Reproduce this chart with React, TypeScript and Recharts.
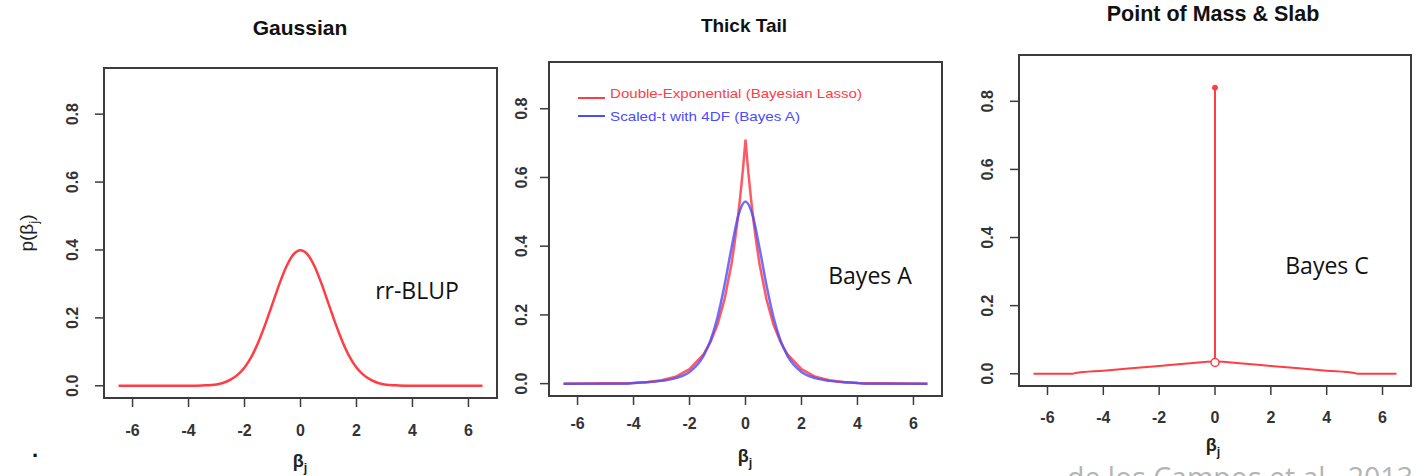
import React from 'react';
import { LineChart, Line, XAxis, YAxis, ReferenceArea, Legend } from 'recharts';

// axis setup shared by the three panels (R style, 4% padding around the data range)
const xTicks = [-6, -4, -2, 0, 2, 4, 6];
const yTicks = [0, 0.2, 0.4, 0.6, 0.8];
const xDomain: [number, number] = [-7.02, 7.02];
const yDomain: [number, number] = [-0.036, 0.936];

// Gaussian (rr-BLUP)
const gaussX = [-6.5, -5, -4, -3.5, -3, -2.75, -2.5, -2.25, -2, -1.75, -1.5, -1.25, -1, -0.75, -0.5, -0.25, 0,
  0.25, 0.5, 0.75, 1, 1.25, 1.5, 1.75, 2, 2.25, 2.5, 2.75, 3, 3.5, 4, 5, 6.5];
const gaussY = [0, 0, 0, 0.001, 0.004, 0.009, 0.018, 0.032, 0.054, 0.086, 0.13, 0.183, 0.242, 0.301, 0.352, 0.387, 0.399,
  0.387, 0.352, 0.301, 0.242, 0.183, 0.13, 0.086, 0.054, 0.032, 0.018, 0.009, 0.004, 0.001, 0, 0, 0];

// Double-exponential (Bayesian Lasso)
const lassoX = [-6.5, -5, -4, -3.5, -3, -2.5, -2, -1.5, -1.25, -1, -0.75, -0.5, -0.4, -0.3, -0.2, -0.1, -0.05, 0,
  0.05, 0.1, 0.2, 0.3, 0.4, 0.5, 0.75, 1, 1.25, 1.5, 2, 2.5, 3, 3.5, 4, 5, 6.5];
const lassoY = [0, 0.001, 0.002, 0.005, 0.01, 0.02, 0.042, 0.085, 0.121, 0.172, 0.245, 0.349, 0.403, 0.464, 0.535, 0.616, 0.662, 0.71,
  0.662, 0.616, 0.535, 0.464, 0.403, 0.349, 0.245, 0.172, 0.121, 0.085, 0.042, 0.02, 0.01, 0.005, 0.002, 0.001, 0];

// Scaled-t with 4 df (Bayes A)
const scaledTX = [-6.5, -5, -4.2, -4, -3.5, -3, -2.5, -2, -1.5, -1.25, -1, -0.75, -0.5, -0.25, 0,
  0.25, 0.5, 0.75, 1, 1.25, 1.5, 2, 2.5, 3, 3.5, 4, 4.2, 5, 6.5];
const scaledTY = [0, 0, 0, 0.002, 0.004, 0.008, 0.016, 0.034, 0.081, 0.126, 0.193, 0.286, 0.395, 0.491, 0.53,
  0.491, 0.395, 0.286, 0.193, 0.126, 0.081, 0.034, 0.016, 0.008, 0.004, 0.002, 0, 0, 0];

// Point of mass & slab (Bayes C)
const slabX = [-6.5, -5.1, -5, -4, -3, -2, -1, 0, 1, 2, 3, 4, 5, 5.1, 6.5];
const slabY = [0, 0, 0.002, 0.009, 0.016, 0.023, 0.03, 0.036, 0.03, 0.023, 0.016, 0.009, 0.002, 0, 0];
const spikeX = [0, 0];
const spikeY = [0.033, 0.84];

const rows = (xs: number[], ys: number[]) => xs.map((x, i) => ({ x, y: ys[i] }));

const RED = '#ff3d45';
const BLUE = '#4b4bff';
const AXIS = '#3c3c3c';
const ARIAL = '"Liberation Sans", Arial, sans-serif';
const CALIBRI = '"Open Sans", "Noto Sans", sans-serif';

const makeXTick = (dy: number) => (props: any) => (
  <text x={props.x} y={props.y + dy} textAnchor="middle" dominantBaseline="central"
    fontFamily={ARIAL} fontSize={16} fontWeight="bold" fill="#333">
    {String(props.payload.value)}
  </text>
);

const makeYTick = (dx: number) => (props: any) => {
  const cx = props.x + dx;
  return (
    <text x={cx} y={props.y} transform={`rotate(-90 ${cx} ${props.y})`} textAnchor="middle"
      dominantBaseline="central" fontFamily={ARIAL} fontSize={16} fontWeight="bold" fill="#333">
      {Number(props.payload.value).toFixed(1)}
    </text>
  );
};

interface PanelProps {
  left: number;
  width: number;
  margin: { top: number; right: number; bottom: number; left: number };
  xdy: number;
  ydx: number;
  children: React.ReactNode;
}

const Panel: React.FC<PanelProps> = ({ left, width, margin, xdy, ydx, children }) => (
  <div style={{ position: 'absolute', left, top: 0 }}>
    <LineChart width={width} height={476} margin={margin}>
      <XAxis type="number" dataKey="x" domain={xDomain} ticks={xTicks} interval={0} allowDataOverflow
        axisLine={false} tickLine={{ stroke: AXIS, strokeWidth: 1.5 }} tickSize={9} height={40}
        tick={makeXTick(xdy)} />
      <YAxis type="number" dataKey="y" domain={yDomain} ticks={yTicks} interval={0} allowDataOverflow
        axisLine={false} tickLine={{ stroke: AXIS, strokeWidth: 1.5 }} tickSize={9} width={40}
        tick={makeYTick(ydx)} />
      <ReferenceArea x1={xDomain[0]} x2={xDomain[1]} y1={yDomain[0]} y2={yDomain[1]}
        fill="none" stroke={AXIS} strokeWidth={2} ifOverflow="visible" />
      {children}
    </LineChart>
  </div>
);

const ThickTailLegend = () => (
  <svg width={300} height={50}>
    <line x1={0} x2={27} y1={20} y2={20} stroke={RED} strokeWidth={2} />
    <text x={32} y={15} dominantBaseline="central" fontFamily={ARIAL} fontSize={13.5} fill={RED}
      textLength={252} lengthAdjust="spacingAndGlyphs">Double-Exponential (Bayesian Lasso)</text>
    <line x1={0} x2={27} y1={38} y2={38} stroke={BLUE} strokeWidth={2} />
    <text x={32} y={38} dominantBaseline="central" fontFamily={ARIAL} fontSize={13.5} fill={BLUE}
      textLength={190} lengthAdjust="spacingAndGlyphs">Scaled-t with 4DF (Bayes A)</text>
  </svg>
);

const SpikeDot = (props: any) => {
  const { cx, cy, index } = props;
  if (index === 1) return <circle key={`d${index}`} cx={cx} cy={cy} r={2.5} fill={RED} stroke={RED} />;
  return <circle key={`d${index}`} cx={cx} cy={cy} r={4} fill="#fff" stroke={RED} strokeWidth={1.5} />;
};

const Txt = ({ x, y, size, bold, font, color, rotate, children }: any) => (
  <div style={{
    position: 'absolute', left: x, top: y, transform: `translate(-50%, -50%)${rotate ? ` rotate(${rotate}deg)` : ''}`,
    fontFamily: font || ARIAL, fontSize: size, fontWeight: bold ? 'bold' : 'normal', color: color || '#111',
    whiteSpace: 'nowrap', lineHeight: 1,
  }}>{children}</div>
);

const Beta = () => <span>β<sub style={{ fontSize: '0.7em' }}>j</sub></span>;

export default function App() {
  return (
    <div style={{ position: 'absolute', left: 0, top: 0, width: 1428, height: 476, overflow: 'hidden', background: '#fff' }}>
      <Panel left={0} width={500} margin={{ top: 68, right: 3, bottom: 38, left: 64 }} xdy={21} ydx={-20}>
        <Line data={rows(gaussX, gaussY)} dataKey="y" type="monotone" stroke={RED} strokeWidth={2.5}
          dot={false} isAnimationActive={false} />
      </Panel>
      <Panel left={500} width={460} margin={{ top: 62, right: 18, bottom: 40, left: 9 }} xdy={16} ydx={-16}>
        <Legend layout="vertical" align="center" verticalAlign="middle"
          wrapperStyle={{ top: 78, left: 78, width: 300, height: 50 }} content={() => <ThickTailLegend />} />
        <Line data={rows(lassoX, lassoY)} dataKey="y" type="linear" stroke={RED} strokeWidth={2.5}
          strokeOpacity={0.85} dot={false} isAnimationActive={false} />
        <Line data={rows(scaledTX, scaledTY)} dataKey="y" type="monotone" stroke={BLUE} strokeWidth={2.5}
          strokeOpacity={0.8} dot={false} isAnimationActive={false} />
      </Panel>
      <Panel left={960} width={468} margin={{ top: 55, right: 17, bottom: 50, left: 19 }} xdy={20} ydx={-20}>
        <Line data={rows(slabX, slabY)} dataKey="y" type="monotone" stroke={RED} strokeWidth={2}
          dot={false} isAnimationActive={false} />
        <Line data={rows(spikeX, spikeY)} dataKey="y" type="linear" stroke={RED} strokeWidth={2}
          dot={SpikeDot} isAnimationActive={false} />
      </Panel>

      <Txt x={300} y={27} size={21} bold>Gaussian</Txt>
      <Txt x={744} y={25} size={19} bold>Thick Tail</Txt>
      <Txt x={1213} y={15} size={21.5} bold>Point of Mass &amp; Slab</Txt>

      <Txt x={417} y={290} size={23} font={CALIBRI}>rr-BLUP</Txt>
      <Txt x={870} y={275} size={23} font={CALIBRI}>Bayes A</Txt>
      <Txt x={1327} y={265} size={23} font={CALIBRI}>Bayes C</Txt>

      <Txt x={29} y={233} size={19} rotate={-90} color="#222">p(<Beta />)</Txt>
      <Txt x={300} y={463} size={18} bold color="#222"><Beta /></Txt>
      <Txt x={745} y={458} size={18} bold color="#222"><Beta /></Txt>
      <Txt x={1213} y={447} size={18} bold color="#222"><Beta /></Txt>

      <Txt x={35} y={450} size={22} bold>.</Txt>
      <div style={{
        position: 'absolute', left: 1067, top: 463, fontFamily: CALIBRI, fontSize: 28.5, color: '#b4b4b4',
        lineHeight: '28px', whiteSpace: 'nowrap',
      }}>de los Campos et al., 2013</div>
    </div>
  );
}
